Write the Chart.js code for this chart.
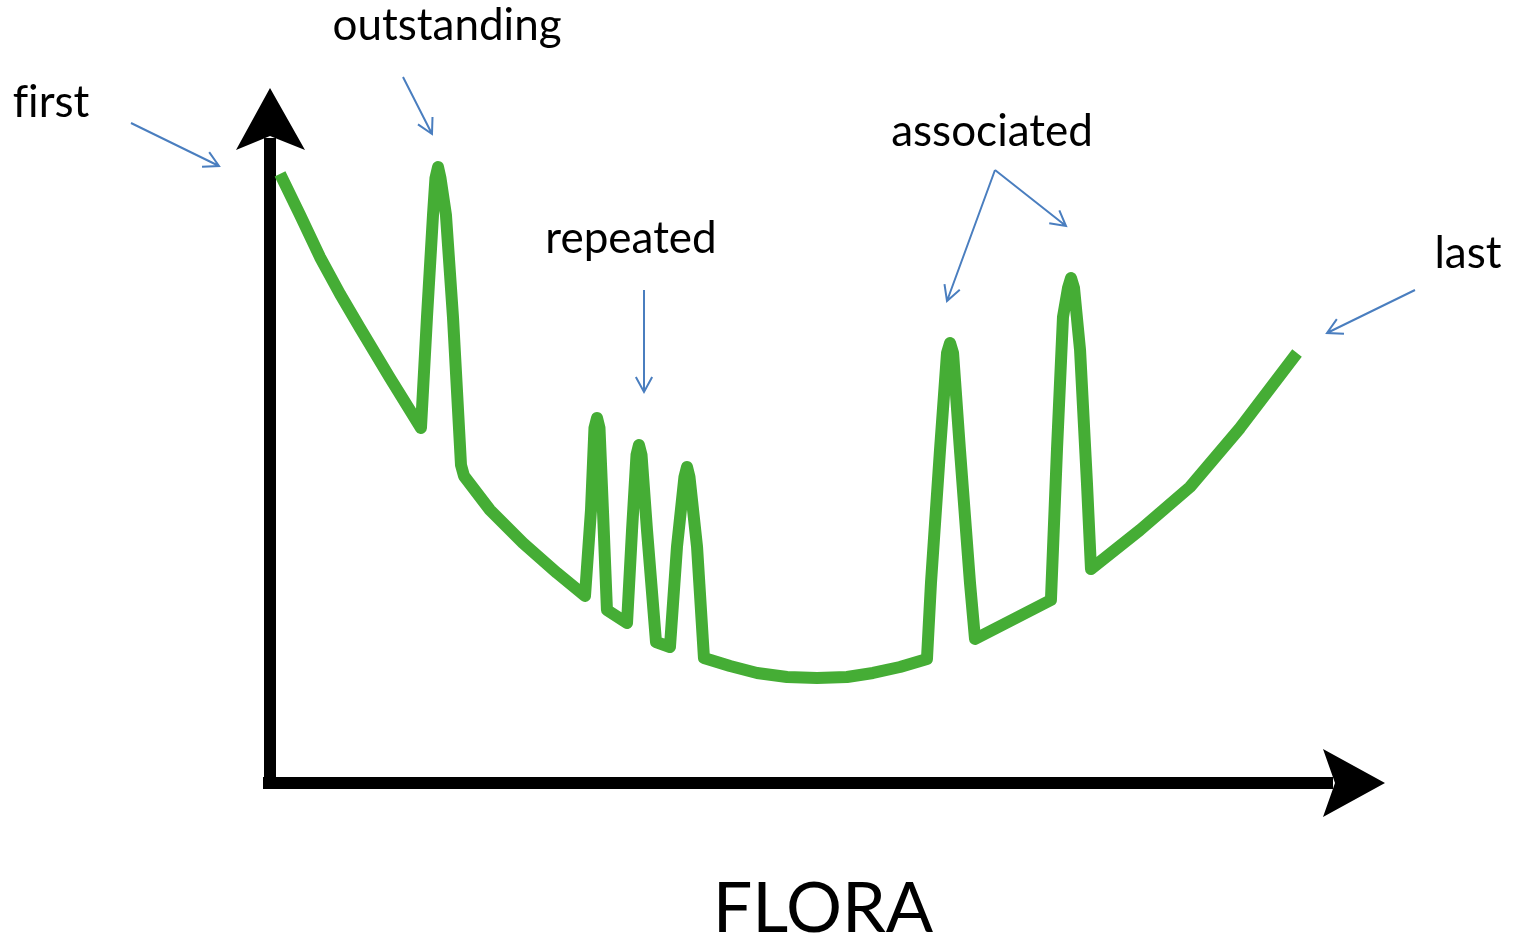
<!DOCTYPE html>
<html lang="en">
<head>
    <meta charset="UTF-8">
    <title>FLORA</title>
    <script src="https://cdn.jsdelivr.net/npm/chart.js"></script>
    <style>
        html, body { margin: 0; padding: 0; background: #fff; }
    </style>
</head>
<body>
    <canvas id="floraChart" width="1516" height="940"></canvas>
    <script>
        // curve (x: 0-100 along the axis, y: 0-100 up the axis)
        const flowX = [0.9, 2.69, 4.48, 6.28, 8.07, 10.76, 13.54,
            14.08, 14.62, 14.84, 15.07, 15.29, 15.78, 16.41, 17.13, 17.4,
            19.73, 22.69, 25.74, 28.25,
            28.79, 29.1, 29.33, 29.55, 29.87, 30.22, 32.02,
            32.47, 32.87, 33.09, 33.32, 33.81, 34.62, 35.87,
            36.5, 37.17, 37.4, 37.62, 38.3, 38.92,
            41.26, 43.68, 46.37, 49.06, 51.75, 54.08, 56.5, 58.92,
            59.28, 60.09, 60.72, 60.99, 61.26, 61.88, 62.78, 63.23,
            66.55, 70.04,
            70.58, 71.12, 71.57, 71.84, 72.11, 72.65, 73.27, 73.63,
            78.03, 82.51, 87.0, 92.11];
        const flowY = [87.63, 81.73, 75.68, 70.36, 65.47, 58.27, 51.08,
            67.05, 81.73, 87.05, 88.63, 87.05, 81.73, 67.05, 45.76, 44.17,
            39.28, 34.53, 30.22, 26.91,
            39.28, 51.08, 52.52, 51.08, 38.85, 24.89, 23.02,
            36.4, 47.19, 48.63, 47.19, 36.4, 20.29, 19.57,
            33.96, 44.03, 45.47, 44.03, 33.96, 17.99,
            16.83, 15.83, 15.25, 15.11, 15.25, 15.83, 16.69, 17.84,
            28.78, 47.91, 61.87, 63.31, 61.87, 47.91, 28.78, 20.72,
            23.45, 26.33,
            47.91, 67.05, 71.22, 72.66, 71.22, 62.3, 43.17, 30.79,
            36.4, 42.59, 51.08, 61.87];

        const axisTitle = 'FLORA';
        const notes = [
            { text: 'f\u200Cirst', tx: 51, ty: 117, arrows: [[131, 123, 219, 166]] },
            { text: 'outstanding', tx: 447, ty: 40, arrows: [[403, 77, 432, 134]] },
            { text: 'repeated', tx: 631, ty: 253, arrows: [[644, 290, 644, 392]] },
            { text: 'associated', tx: 992, ty: 146, arrows: [[995, 170, 947, 301], [995, 170, 1066, 226]] },
            { text: 'last', tx: 1468, ty: 268, arrows: [[1415, 290, 1327, 333]] }
        ];

        const points = flowX.map((x, i) => ({ x: x, y: flowY[i] }));

        function blueArrow(ctx, x1, y1, x2, y2) {
            const a = Math.atan2(y2 - y1, x2 - x1);
            const len = 17, spread = 0.5;
            ctx.beginPath();
            ctx.moveTo(x1, y1);
            ctx.lineTo(x2, y2);
            ctx.moveTo(x2 - len * Math.cos(a - spread), y2 - len * Math.sin(a - spread));
            ctx.lineTo(x2, y2);
            ctx.lineTo(x2 - len * Math.cos(a + spread), y2 - len * Math.sin(a + spread));
            ctx.stroke();
        }

        const axesPlugin = {
            id: 'arrowAxes',
            beforeDatasetsDraw(chart) {
                const { ctx, chartArea: ca } = chart;
                ctx.save();
                ctx.fillStyle = '#000';
                // shafts
                ctx.fillRect(ca.left - 6, ca.top + 50, 12, ca.bottom - ca.top - 44);
                ctx.fillRect(ca.left - 7, ca.bottom - 6, ca.right - ca.left - 45, 12);
                // vertical head
                ctx.beginPath();
                ctx.moveTo(ca.left, ca.top);
                ctx.lineTo(ca.left + 35, ca.top + 62);
                ctx.lineTo(ca.left, ca.top + 48);
                ctx.lineTo(ca.left - 34, ca.top + 62);
                ctx.closePath();
                ctx.fill();
                // horizontal head
                ctx.beginPath();
                ctx.moveTo(ca.right, ca.bottom);
                ctx.lineTo(ca.right - 62, ca.bottom + 34);
                ctx.lineTo(ca.right - 50, ca.bottom);
                ctx.lineTo(ca.right - 62, ca.bottom - 34);
                ctx.closePath();
                ctx.fill();
                ctx.restore();
            },
            afterDraw(chart) {
                const { ctx } = chart;
                ctx.save();
                ctx.fillStyle = '#000';
                ctx.textAlign = 'center';
                ctx.textBaseline = 'alphabetic';
                ctx.font = '44px Lato';
                notes.forEach(n => ctx.fillText(n.text, n.tx, n.ty));
                ctx.font = '70px Lato';
                ctx.fillText(axisTitle, 823, 932);
                ctx.strokeStyle = '#4a7ebf';
                ctx.lineWidth = 2;
                notes.forEach(n => n.arrows.forEach(a => blueArrow(ctx, a[0], a[1], a[2], a[3])));
                ctx.restore();
            }
        };

        new Chart(document.getElementById('floraChart').getContext('2d'), {
            type: 'line',
            data: {
                datasets: [{
                    data: points,
                    borderColor: '#45ad35',
                    borderWidth: 12,
                    borderJoinStyle: 'round',
                    borderCapStyle: 'butt',
                    tension: 0,
                    pointRadius: 0,
                    fill: false
                }]
            },
            options: {
                responsive: false,
                animation: false,
                layout: { padding: { left: 270, right: 131, top: 88, bottom: 157 } },
                plugins: { legend: { display: false }, tooltip: { enabled: false } },
                scales: {
                    x: { type: 'linear', min: 0, max: 100, display: false },
                    y: { min: 0, max: 100, display: false }
                }
            },
            plugins: [axesPlugin]
        });
    </script>
</body>
</html>
